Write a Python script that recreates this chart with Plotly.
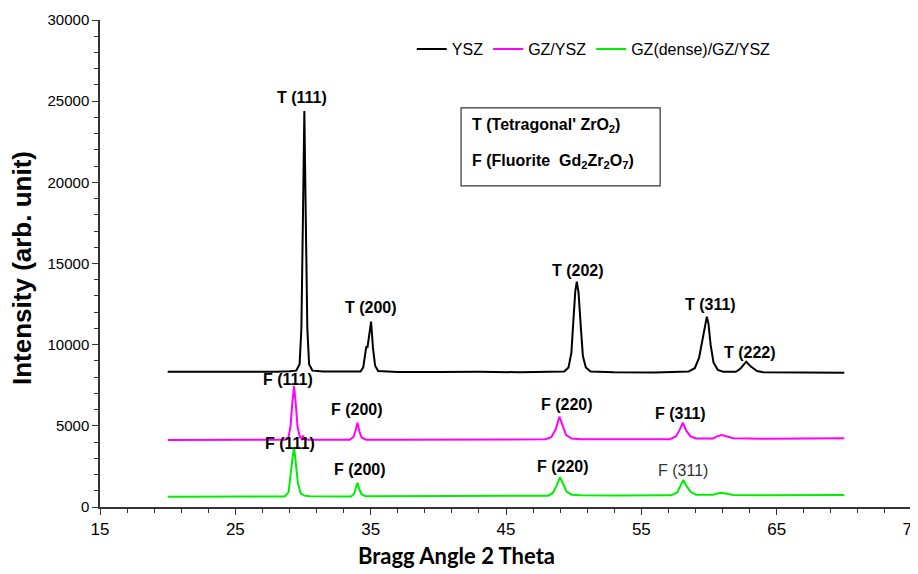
import plotly.graph_objects as go

# ---------------- data ----------------
ysz_x = [20, 22, 24, 26, 28, 29.0, 29.5, 29.75, 29.88, 29.99, 30.1, 30.21, 30.32, 30.45, 30.7, 31.5, 33,
         34.25, 34.45, 34.6, 34.68, 34.76, 34.88, 35.03, 35.17, 35.33, 35.55, 37, 40, 43, 46, 48.5, 49.3,
         49.62, 49.83, 49.98, 50.12, 50.23, 50.36, 50.52, 50.68, 50.9, 51.25, 53, 56, 58.5, 58.95, 59.27,
         59.53, 59.74, 59.84, 59.96, 60.12, 60.33, 60.65, 61.05, 62.0, 62.35, 62.75, 63.1, 63.55, 64, 66,
         68, 70]
ysz_y = [8330, 8320, 8330, 8310, 8330, 8360, 8400, 8800, 11000, 17500, 24400, 17500, 11000, 8800, 8400,
         8340, 8330, 8350, 8600, 9300, 9900, 9800, 10400, 11420, 9800, 8700, 8380, 8320, 8310, 8330,
         8300, 8310, 8350, 8600, 9500, 11500, 13300, 13880, 13200, 11200, 9300, 8600, 8350, 8300, 8290,
         8350, 8550, 9200, 10300, 11400, 11725, 11300, 10000, 8900, 8450, 8330, 8330, 8550, 8950, 8650,
         8380, 8300, 8280, 8280, 8275]

gz_x = [20, 23, 26, 28.65, 28.93, 29.08, 29.21, 29.34, 29.47, 29.6, 29.78, 29.9, 30.0, 30.1, 30.4, 32,
        33.45, 33.72, 33.88, 34.02, 34.17, 34.33, 34.65, 37, 41, 45, 47.9, 48.35, 48.68, 48.95, 49.17,
        49.43, 49.85, 50.5, 53, 55, 57.1, 57.55, 57.83, 58.07, 58.32, 58.63, 59.05, 60.3, 60.6, 60.94,
        61.3, 61.8, 64, 67, 70]
gz_y = [4130, 4140, 4140, 4150, 4300, 5000, 6400, 7455, 6300, 4900, 4300, 4200, 4400, 4200, 4150, 4150,
        4150, 4300, 4700, 5195, 4650, 4280, 4150, 4140, 4150, 4160, 4170, 4300, 4800, 5565, 5000, 4450,
        4220, 4180, 4170, 4180, 4180, 4350, 4750, 5195, 4700, 4350, 4220, 4220, 4350, 4436, 4330, 4230,
        4210, 4220, 4230]

dense_x = [20, 23, 26, 28.65, 28.93, 29.08, 29.21, 29.34, 29.47, 29.62, 29.82, 30.1, 30.5, 32, 33.55,
           33.77, 33.9, 34.02, 34.16, 34.32, 34.65, 37, 41, 45, 48.1, 48.45, 48.73, 48.99, 49.22, 49.48,
           49.85, 50.5, 53, 55, 57.2, 57.65, 57.88, 58.1, 58.33, 58.65, 59.05, 60.3, 60.6, 60.94, 61.3,
           61.8, 64, 67, 70]
dense_y = [630, 640, 640, 650, 900, 1800, 2900, 3700, 2800, 1500, 850, 700, 660, 650, 650, 800, 1150,
           1497, 1100, 790, 660, 650, 670, 690, 700, 850, 1300, 1830, 1450, 950, 760, 720, 710, 720,
           720, 900, 1250, 1663, 1300, 920, 760, 760, 830, 880, 820, 740, 730, 740, 740]

series_names = ["YSZ", "GZ/YSZ", "GZ(dense)/GZ/YSZ"]
series_colors = ["#000000", "#ff00ff", "#00ee00"]

# peak labels: text, x, y
t_labels = ["T (111)", "T (200)", "T (202)", "T (311)", "T (222)"]
t_lab_x = [29.93, 35.03, 50.35, 60.08, 63.04]
t_lab_y = [25200, 12260, 14560, 12490, 9510]

gz_labels = ["F (111)", "F (200)", "F (220)", "F (311)"]
gz_lab_x = [28.92, 33.97, 49.49, 57.87]
gz_lab_y = [7825, 5977, 6285, 5773]

dense_labels = ["F (111)", "F (200)", "F (220)", "F (311)"]
dense_lab_x = [29.04, 34.22, 49.24, 58.06]
dense_lab_y = [3925, 2280, 2483, 2237]

phase_lines = ["T (Tetragonal' ZrO<sub>2</sub>)", "F (Fluorite  Gd<sub>2</sub>Zr<sub>2</sub>O<sub>7</sub>)"]

x_ticks = [15, 25, 35, 45, 55, 65, 75]
y_ticks = [0, 5000, 10000, 15000, 20000, 25000, 30000]

x_title = "Bragg Angle 2 Theta"
y_title = "Intensity (arb. unit)"

# ---------------- figure ----------------
fig = go.Figure()
for xs, ys, name, col in zip([ysz_x, gz_x, dense_x], [ysz_y, gz_y, dense_y], series_names, series_colors):
    fig.add_trace(go.Scatter(x=xs, y=ys, mode="lines", name=name,
                             line=dict(color=col, width=2)))

LABF = "Liberation Sans, Arial, sans-serif"
for texts, xs, ys, bold, col in [
    (t_labels, t_lab_x, t_lab_y, [True] * 5, ["#000"] * 5),
    (gz_labels, gz_lab_x, gz_lab_y, [True] * 4, ["#000"] * 4),
    (dense_labels, dense_lab_x, dense_lab_y, [True, True, True, False], ["#000", "#000", "#000", "#333"]),
]:
    for t, x, y, b, c in zip(texts, xs, ys, bold, col):
        fig.add_annotation(x=x, y=y, text=f"<b>{t}</b>" if b else t, showarrow=False,
                           font=dict(family=LABF, size=16, color=c), xanchor="center", yanchor="middle")

# phase box
fig.add_shape(type="rect", xref="x", yref="y", x0=41.68, x1=56.39, y0=19778, y1=24584,
              line=dict(color="#333", width=1.2), fillcolor="white", layer="below")
for t, y in zip(phase_lines, [23475, 21257]):
    fig.add_annotation(x=42.35, y=y, text=f"<b>{t}</b>", showarrow=False, xanchor="left",
                       yanchor="middle", font=dict(family=LABF, size=16, color="#000"))

# axis titles
fig.add_annotation(xref="paper", yref="paper", x=(456 - 100) / 812, y=-(555 - 507) / 487,
                   text=f"<b>{x_title}</b>", showarrow=False, xanchor="center", yanchor="middle",
                   font=dict(family="Lato, Open Sans, sans-serif", size=22, color="#000"))
fig.add_annotation(xref="paper", yref="paper", x=-(100 - 22) / 812, y=(507 - 268) / 487,
                   text=f"<b>{y_title}</b>", showarrow=False, xanchor="center", yanchor="middle",
                   textangle=-90, font=dict(family=LABF, size=26, color="#000"))

# the page adds an 8px body margin, so the plot area is shifted by 8px
fig.update_layout(
    width=918, height=574,
    margin=dict(l=92, r=14, t=12, b=75),
    paper_bgcolor="white", plot_bgcolor="white",
    showlegend=True,
    legend=dict(orientation="h", x=0.384, y=0.94, xanchor="left", yanchor="middle",
                font=dict(family=LABF, size=16, color="#000"), itemwidth=30,
                bgcolor="rgba(0,0,0,0)", tracegroupgap=0),
    font=dict(family=LABF),
)
fig.update_xaxes(range=[15, 75], tickvals=x_ticks, ticktext=[str(v) for v in x_ticks], automargin=False,
                 showgrid=False, zeroline=False, showline=True, linecolor="#333", linewidth=1.5,
                 ticks="outside", ticklen=6, tickwidth=1.2, tickcolor="#333",
                 minor=dict(dtick=2, tick0=15, ticks="outside", ticklen=4, tickcolor="#333", showgrid=False),
                 tickfont=dict(family="Liberation Sans Narrow, Liberation Sans, Arial", size=17, color="#000"))
fig.update_yaxes(range=[0, 30000], tickvals=y_ticks, ticktext=[str(v) for v in y_ticks], automargin=False,
                 showgrid=False, zeroline=False, showline=True, linecolor="#333", linewidth=1.5,
                 ticks="outside", ticklen=6, tickwidth=1.2, tickcolor="#333",
                 minor=dict(dtick=1000, ticks="outside", ticklen=4, tickcolor="#333", showgrid=False),
                 tickfont=dict(family=LABF, size=15, color="#000"))

fig.write_html("out.html")
